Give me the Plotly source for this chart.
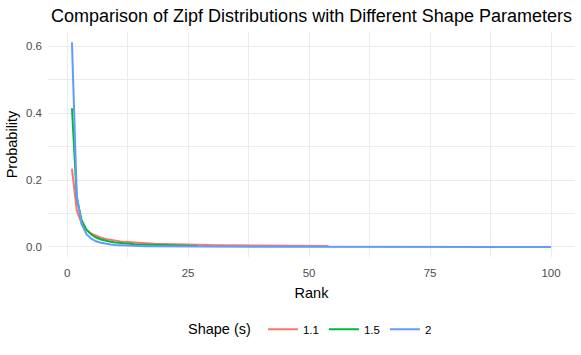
import plotly.graph_objects as go

shape_labels = ["1.1", "1.5", "2"]
colors = ["#F8766D", "#00BA38", "#619CFF"]

prob_s11 = [0.2338, 0.1091, 0.0698, 0.0509, 0.0398, 0.0326, 0.0275, 0.0237, 0.0209, 0.0186,
            0.0167, 0.0152, 0.0139, 0.0128, 0.0119, 0.0111, 0.0104, 0.0097, 0.0092, 0.0087,
            0.0082, 0.0078, 0.0074, 0.0071, 0.0068, 0.0065, 0.0062, 0.0060, 0.0058, 0.0055,
            0.0053, 0.0052, 0.0050, 0.0048, 0.0047, 0.0045, 0.0044, 0.0043, 0.0042, 0.0040,
            0.0039, 0.0038, 0.0037, 0.0036, 0.0036, 0.0035, 0.0034, 0.0033, 0.0032, 0.0032,
            0.0031, 0.0030, 0.0030, 0.0029]
prob_s15 = [0.4144, 0.1465, 0.0798, 0.0518, 0.0371, 0.0282, 0.0224, 0.0183, 0.0153, 0.0131,
            0.0114, 0.0100, 0.0088, 0.0079, 0.0071, 0.0065, 0.0059, 0.0054, 0.0050, 0.0046,
            0.0043, 0.0040, 0.0038, 0.0035, 0.0033, 0.0031, 0.0030]
prob_s2 = [0.6116, 0.1529, 0.0680, 0.0382, 0.0245, 0.0170, 0.0125, 0.0096, 0.0076, 0.0061,
           0.0051, 0.0042, 0.0036, 0.0031, 0.0027, 0.0024, 0.0021, 0.0019, 0.0017, 0.0015,
           0.0014, 0.0013, 0.0012, 0.0011, 0.0010, 0.0009, 0.0008, 0.0008, 0.0007, 0.0007,
           0.0006, 0.0006, 0.0006, 0.0005, 0.0005, 0.0005, 0.0004, 0.0004, 0.0004, 0.0004,
           0.0004, 0.0003, 0.0003, 0.0003, 0.0003, 0.0003, 0.0003, 0.0003, 0.0003, 0.0002,
           0.0002, 0.0002, 0.0002, 0.0002, 0.0002, 0.0002, 0.0002, 0.0002, 0.0002, 0.0002,
           0.0002, 0.0002, 0.0002, 0.0001, 0.0001, 0.0001, 0.0001, 0.0001, 0.0001, 0.0001,
           0.0001, 0.0001, 0.0001, 0.0001, 0.0001, 0.0001, 0.0001, 0.0001, 0.0001, 0.0001,
           0.0001, 0.0001, 0.0001, 0.0001, 0.0001, 0.0001, 0.0001, 0.0001, 0.0001, 0.0001,
           0.0001, 0.0001, 0.0001, 0.0001, 0.0001, 0.0001, 0.0001, 0.0001, 0.0001, 0.0001]

series = [prob_s11, prob_s15, prob_s2]

x_ticks = [0, 25, 50, 75, 100]
y_ticks = [0.0, 0.2, 0.4, 0.6]
y_tick_text = ["0.0", "0.2", "0.4", "0.6"]

FONT = "Liberation Sans, Arial, sans-serif"

fig = go.Figure()
for lab, col, ys in zip(shape_labels, colors, series):
    fig.add_trace(go.Scatter(
        x=list(range(1, len(ys) + 1)), y=ys, mode="lines", name=lab,
        line=dict(color=col, width=2),
    ))

axis_common = dict(
    showline=False, zeroline=False, ticks="", automargin=False,
    gridcolor="#EBEBEB", gridwidth=1.1,
    tickfont=dict(family=FONT, size=11.5, color="#4D4D4D"),
    title_font=dict(family=FONT, size=14.5, color="black"),
)

fig.update_layout(
    width=581, height=355,
    paper_bgcolor="white", plot_bgcolor="white",
    margin=dict(l=48, r=6, t=32, b=98, autoexpand=False),
    title=dict(text="Comparison of Zipf Distributions with Different Shape Parameters",
               x=0.5, xanchor="center", xref="paper", y=1 - 16 / 355, yref="container", yanchor="middle",
               font=dict(family=FONT, size=18, color="black")),
    xaxis=dict(range=[-3.95, 104.95], tickvals=x_ticks, title=dict(text="Rank", standoff=10),
               ticklabelstandoff=7,
               minor=dict(dtick=12.5, tick0=12.5, showgrid=True, gridcolor="#EBEBEB", gridwidth=0.55, ticks=""),
               **axis_common),
    yaxis=dict(range=[-0.030, 0.6422], tickvals=y_ticks, ticktext=y_tick_text,
               title=dict(text="Probability", standoff=4), ticklabelstandoff=5,
               minor=dict(dtick=0.1, tick0=0.1, showgrid=True, gridcolor="#EBEBEB", gridwidth=0.55, ticks=""),
               **axis_common),
    legend=dict(orientation="h", x=0.5, xanchor="center", y=-0.321, yanchor="middle",
                title=dict(text="Shape (s) ", side="left", font=dict(family=FONT, size=14.5, color="black")),
                font=dict(family=FONT, size=11.5, color="black"),
                itemwidth=30, entrywidth=0, tracegroupgap=0),
    showlegend=True,
)

fig.write_html("out.html", config={"displayModeBar": False},
               post_script="document.body.style.margin='0';document.body.style.padding='0';")
